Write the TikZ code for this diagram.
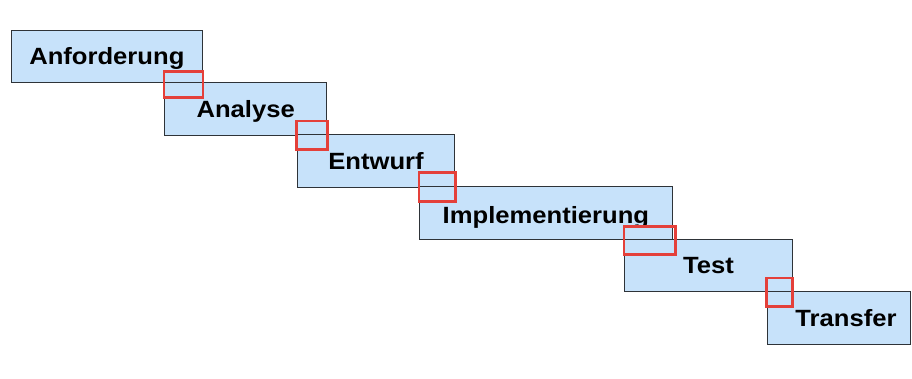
\documentclass[tikz,border=0pt]{standalone}
\usepackage{fontspec}
\newfontfamily\phasefont{Liberation Sans}[FakeStretch=1.09]
\definecolor{phasefill}{HTML}{C7E2FA}
\definecolor{boxline}{HTML}{2E3338}
\definecolor{markred}{HTML}{E4403A}
\begin{document}
\begin{tikzpicture}[x=1pt,y=-1pt,
  phase/.style={draw=boxline, line width=1.3pt, fill=phasefill, inner sep=0pt,
    anchor=north west, minimum height=52.5pt, text=black,
    font=\phasefont\bfseries\fontsize{23.5}{28}\selectfont,
    text height=16.7pt, text depth=0pt},
  handover/.style={draw=markred, line width=2.8pt}]
\useasboundingbox (0,0) rectangle (912,378);
\clip (0,0) rectangle (912,378);

% the phases, each starting where the previous one ends
\node[phase, minimum width=191pt]   (req)   at (10.7,29.5)  {Anforderung};
\node[phase, minimum width=162pt]   (ana)   at (164,82)     {Analyse};
\node[phase, minimum width=157.3pt] (ent)   at (296.7,134)  {Entwurf};
\node[phase, minimum width=252.5pt] (impl)  at (419,186)    {\raisebox{-2pt}{Implementierung}};
\node[phase, minimum width=167.5pt] (test)  at (624,238.5)  {Test};
\node[phase, minimum width=143.3pt] (trans) at (766.7,291)  {\hspace*{14pt}Transfer};

% hand-over markers between consecutive phases
\draw[handover] ([yshift=10.3pt]ana.north west)   rectangle ([yshift=-14.5pt]req.south east);
\draw[handover] ([yshift=13pt]ent.north west)     rectangle ([yshift=-13.5pt]ana.south east);
\draw[handover] ([yshift=13.3pt]impl.north west)  rectangle ([yshift=-14pt]ent.south east);
\draw[handover] ([yshift=12pt]test.north west)    rectangle ([xshift=3pt,yshift=-15pt]impl.south east);
\draw[handover] ([yshift=13pt]trans.north west)   rectangle ([yshift=-14.5pt]test.south east);
\end{tikzpicture}
\end{document}
